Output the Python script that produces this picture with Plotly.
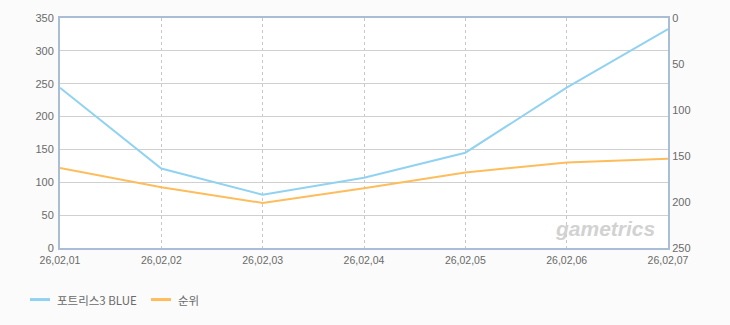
import plotly.graph_objects as go

categories = ["26,02,01", "26,02,02", "26,02,03", "26,02,04", "26,02,05", "26,02,06", "26,02,07"]
players = [244, 121, 81, 107, 145, 244, 333]
rank = [163, 184, 201, 185, 168, 157, 153]
series_names = ["포트리스3 BLUE", "순위"]

blue = "#92d2f1"
orange = "#fdbd5c"
axis_col = "#a9bdd5"
ytick_font = dict(family="Liberation Sans, DejaVu Sans", size=11, color="#6a6a6a")
xtick_font = dict(family="Liberation Sans, DejaVu Sans", size=10.5, color="#6a6a6a")

fig = go.Figure()
fig.add_trace(go.Scatter(x=categories, y=players, name=series_names[0], mode="lines",
                         line=dict(color=blue, width=2), yaxis="y"))
fig.add_trace(go.Scatter(x=categories, y=rank, name=series_names[1], mode="lines",
                         line=dict(color=orange, width=2), yaxis="y2"))

fig.update_layout(
    width=730, height=325,
    margin=dict(l=60, r=62, t=16, b=77),
    paper_bgcolor="#fbfbfb",
    plot_bgcolor="#ffffff",
    showlegend=False,
    xaxis=dict(type="category", range=[0, 6], showgrid=True, gridcolor="#c8c8c8",
               griddash="3px,3px", gridwidth=1, showline=True, linecolor=axis_col, linewidth=2,
               mirror=True, ticks="", tickfont=xtick_font, zeroline=False, ticklabelstandoff=1),
    yaxis=dict(range=[0, 350], dtick=50, showgrid=True, gridcolor="#d0d0d0", gridwidth=1,
               showline=True, linecolor=axis_col, linewidth=2, ticks="", tickfont=ytick_font,
               zeroline=False, ticklabelstandoff=2),
    yaxis2=dict(range=[250, 0], dtick=50, overlaying="y", side="right", showgrid=False,
                showline=True, linecolor=axis_col, linewidth=2, ticks="", tickfont=ytick_font,
                zeroline=False, ticklabelstandoff=0),
)

# manual legend
legend_font = dict(family="Noto Sans CJK KR, DejaVu Sans", size=11.5, color="#6a6a6a")
items = [(series_names[0], blue, 30), (series_names[1], orange, 151)]
for name, col, px in items:
    x0 = (px - 60) / 608
    x1 = (px + 20 - 60) / 608
    yy = (248 - 300) / 232
    fig.add_shape(type="line", xref="paper", yref="paper", x0=x0, x1=x1, y0=yy, y1=yy,
                  line=dict(color=col, width=3))
    fig.add_annotation(text=name, xref="paper", yref="paper", x=(px + 25 - 60) / 608, y=yy,
                       xanchor="left", yanchor="middle", showarrow=False, font=legend_font)

fig.add_annotation(text="<b><i>gametrics</i></b>", xref="paper", yref="paper",
                   x=(605 - 60) / 608, y=(248 - 228) / 232, xanchor="center", yanchor="middle",
                   showarrow=False,
                   font=dict(family="Liberation Sans", size=21, color="#d2d2d2"))

fig.write_html("out.html")
